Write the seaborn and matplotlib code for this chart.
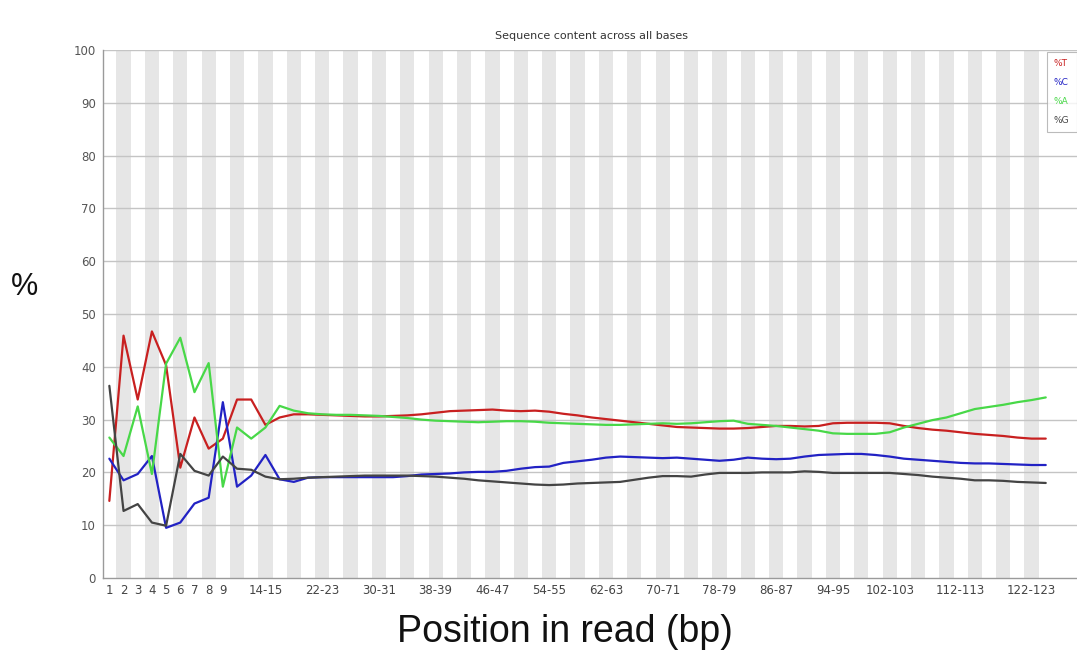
import numpy as np
import pandas as pd
import seaborn as sns
import matplotlib.pyplot as plt
from matplotlib.lines import Line2D

# Position groups (FastQC style): single bases 1-9, then pairs up to 124-125
positions = [str(p) for p in range(1, 10)] + [f"{p}-{p + 1}" for p in range(10, 125, 2)]

# tick labels actually printed on the x axis
shown_labels = ["1", "2", "3", "4", "5", "6", "7", "8", "9",
                "14-15", "22-23", "30-31", "38-39", "46-47", "54-55", "62-63",
                "70-71", "78-79", "86-87", "94-95", "102-103", "112-113", "122-123"]

pct_T = [14.6, 45.9, 33.8, 46.7, 40.3, 20.9, 30.4, 24.5, 26.4, 33.8,
         33.8, 29.0, 30.4, 31.0, 31.0, 30.9, 30.8, 30.7, 30.6, 30.6,
         30.7, 30.8, 31.0, 31.3, 31.6, 31.7, 31.8, 31.9, 31.7, 31.6,
         31.7, 31.5, 31.1, 30.8, 30.4, 30.1, 29.8, 29.5, 29.2, 28.9,
         28.6, 28.5, 28.4, 28.3, 28.3, 28.4, 28.6, 28.8, 28.8, 28.7,
         28.8, 29.3, 29.4, 29.4, 29.4, 29.3, 28.8, 28.4, 28.1, 27.9,
         27.6, 27.3, 27.1, 26.9, 26.6, 26.4, 26.4]

pct_C = [22.6, 18.5, 19.7, 23.1, 9.5, 10.5, 14.1, 15.2, 33.3, 17.3,
         19.4, 23.3, 18.7, 18.2, 19.0, 19.1, 19.1, 19.1, 19.1, 19.1,
         19.1, 19.3, 19.6, 19.7, 19.8, 20.0, 20.1, 20.1, 20.3, 20.7,
         21.0, 21.1, 21.8, 22.1, 22.4, 22.8, 23.0, 22.9, 22.8, 22.7,
         22.8, 22.6, 22.4, 22.2, 22.4, 22.8, 22.6, 22.5, 22.6, 23.0,
         23.3, 23.4, 23.5, 23.5, 23.3, 23.0, 22.6, 22.4, 22.2, 22.0,
         21.8, 21.7, 21.7, 21.6, 21.5, 21.4, 21.4]

pct_A = [26.6, 23.1, 32.5, 19.7, 40.6, 45.5, 35.2, 40.7, 17.3, 28.5,
         26.4, 28.5, 32.6, 31.7, 31.2, 31.0, 30.9, 30.9, 30.8, 30.7,
         30.5, 30.3, 30.0, 29.8, 29.7, 29.6, 29.5, 29.6, 29.7, 29.7,
         29.6, 29.4, 29.3, 29.2, 29.1, 29.0, 29.0, 29.1, 29.2, 29.3,
         29.2, 29.3, 29.5, 29.7, 29.8, 29.2, 29.0, 28.8, 28.5, 28.2,
         27.9, 27.4, 27.3, 27.3, 27.3, 27.6, 28.5, 29.2, 29.9, 30.4,
         31.2, 32.0, 32.4, 32.8, 33.3, 33.7, 34.2]

pct_G = [36.4, 12.7, 14.0, 10.5, 9.9, 23.5, 20.3, 19.4, 23.0, 20.7,
         20.5, 19.2, 18.7, 18.8, 19.0, 19.1, 19.2, 19.3, 19.4, 19.4,
         19.4, 19.4, 19.3, 19.2, 19.0, 18.8, 18.5, 18.3, 18.1, 17.9,
         17.7, 17.6, 17.7, 17.9, 18.0, 18.1, 18.2, 18.6, 19.0, 19.3,
         19.3, 19.2, 19.6, 19.9, 19.9, 19.9, 20.0, 20.0, 20.0, 20.2,
         20.1, 19.9, 19.9, 19.9, 19.9, 19.9, 19.7, 19.5, 19.2, 19.0,
         18.8, 18.5, 18.5, 18.4, 18.2, 18.1, 18.0]

bases = ["%T", "%C", "%A", "%G"]
colors = ["#c82020", "#2222c4", "#48d848", "#444444"]

# long-form table for seaborn
idx = np.arange(len(positions))
df = pd.concat([
    pd.DataFrame({"idx": idx, "pos": positions, "pct": vals, "base": b})
    for b, vals in zip(bases, [pct_T, pct_C, pct_A, pct_G])
])

sns.set_style("white")
plt.rcParams["font.family"] = ["DejaVu Sans"]

fig = plt.figure(figsize=(10.77, 6.52), dpi=100)
ax = fig.add_axes([0.0956, 0.1135, 0.907, 0.8098])

# alternating grey stripes per position group
for i in range(1, len(positions), 2):
    ax.axvspan(i - 0.5, i + 0.5, color="#e6e6e6", lw=0, zorder=0)

# horizontal grid
for y in range(10, 101, 10):
    ax.axhline(y, color="#c4c4c4", lw=1, zorder=1)

sns.lineplot(data=df, x="idx", y="pct", hue="base", hue_order=bases,
             palette=colors, linewidth=1.6, legend=False, ax=ax, zorder=3)

ax.set_xlim(-0.45, 68.4)
ax.set_ylim(0, 100)
ax.set_yticks(range(0, 101, 10))
ax.set_yticklabels([str(v) for v in range(0, 101, 10)], fontsize=8.5, color="#555555")
tick_idx = [positions.index(lab) for lab in shown_labels]
ax.set_xticks(tick_idx)
ax.set_xticklabels(shown_labels, fontsize=8.5, color="#444444")
ax.tick_params(axis="both", length=0)
ax.tick_params(axis="x", pad=4)
ax.tick_params(axis="y", pad=5)
ax.set_xlabel("")
ax.set_ylabel("")

for side in ["top", "right"]:
    ax.spines[side].set_visible(False)
for side in ["left", "bottom"]:
    ax.spines[side].set_color("#9a9a9a")
    ax.spines[side].set_linewidth(1)

ax.set_title("Sequence content across all bases", fontsize=8, color="#333333", pad=8)

# text-only legend in the top right corner
handles = [Line2D([], [], color=c, lw=0) for c in colors]
leg = ax.legend(handles, bases, loc="upper left", bbox_to_anchor=(0.966, 0.997),
                handlelength=0, handletextpad=0, fontsize=6.5, labelspacing=1.1,
                frameon=True, fancybox=False, edgecolor="#aaaaaa", borderpad=0.8,
                borderaxespad=0)
leg.get_frame().set_linewidth(0.8)
for txt, c in zip(leg.get_texts(), colors):
    txt.set_color(c)

fig.text(25 / 1077, 1 - 287 / 652, "%", fontsize=22, family="Liberation Sans",
         ha="center", va="center", color="#111111")
fig.text(565 / 1077, 1 - 632 / 652, "Position in read (bp)", fontsize=27,
         family="Liberation Sans", ha="center", va="center", color="#111111")

fig.savefig("out.png", dpi=100, facecolor="white")
